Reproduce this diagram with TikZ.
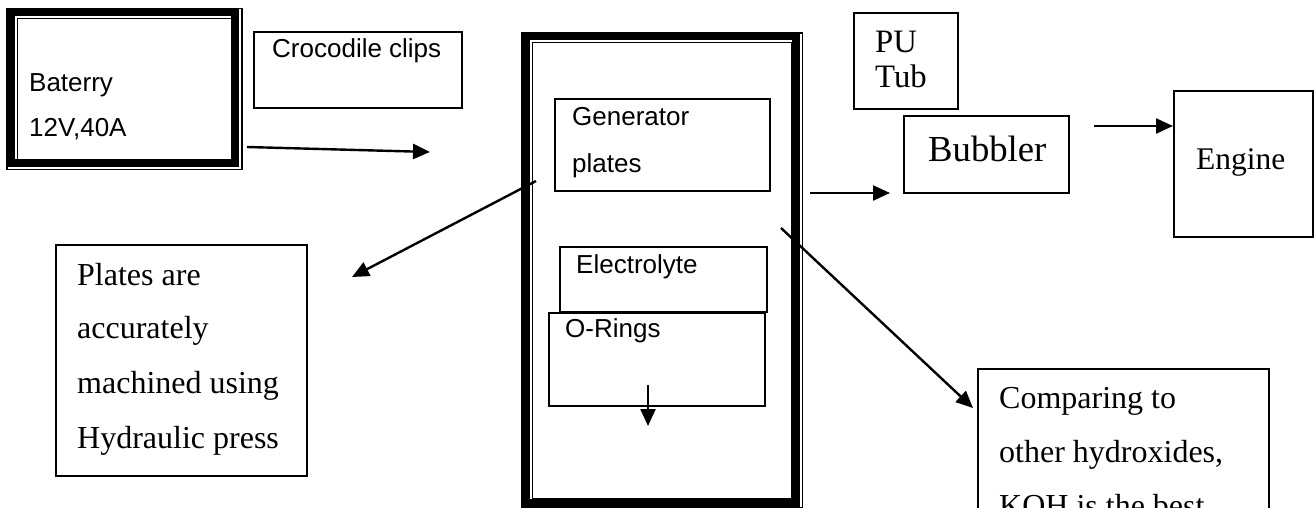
\documentclass[tikz,border=0pt]{standalone}
\usepackage{fontspec}
\setmainfont{Liberation Serif}
\newfontfamily\arialfont{Liberation Sans}
\usetikzlibrary{arrows.meta}
\begin{document}
\begin{tikzpicture}[x=1pt,y=-1pt,
  box/.style={draw, line width=1.7pt, anchor=north west, inner sep=0pt, outer sep=0pt},
  sanstxt/.style={font=\arialfont\fontsize{26}{30}\selectfont, anchor=base west, inner sep=0pt},
  seriftxt/.style={font=\fontsize{32}{36}\selectfont, anchor=base west, inner sep=0pt},
  arr/.style={line width=2.4pt, -{Triangle[length=17pt,width=15pt]}},
  bandline/.style={line width=8pt},
  thinline/.style={line width=1.3pt}
]
\useasboundingbox (0,0) rectangle (1314,508);
\clip (0,0) rectangle (1314,508);

% battery frame (thick-thin border)
\draw[bandline] (10.7,12.3) rectangle (235,163);
\draw[thinline] (17.5,18.7) rectangle (231.5,159.5);
\draw[thinline] (7,8.5) rectangle (242,169.5);

% generator frame (thick-thin border)
\draw[bandline] (526,36) rectangle (796,503);
\draw[thinline] (532.5,42.5) rectangle (792,498.5);
\draw[thinline] (522,33) rectangle (802.5,507.5);

% boxes
\node[box, minimum width=208pt, minimum height=76pt] (croc) at (254,32) {};
\node[box, minimum width=215pt, minimum height=92pt] (gen) at (555,99) {};
\node[box, minimum width=207pt, minimum height=65pt] (elec) at (560,247) {};
\node[box, minimum width=216pt, minimum height=93pt] (orings) at (549,313) {};
\node[box, minimum width=104pt, minimum height=96pt] (putub) at (854,13) {};
\node[box, minimum width=165pt, minimum height=77pt] (bubbler) at (904,116) {};
\node[box, minimum width=139pt, minimum height=146pt] (engine) at (1174,91) {};
\node[box, minimum width=251pt, minimum height=231pt] (plates) at (56,245) {};
\node[box, minimum width=291pt, minimum height=200pt] (comparing) at (978,369) {};

% texts
\node[sanstxt] (t1) at (29,92) {Baterry};
\node[sanstxt] (t2) at (29,137) {12V,40A};
\node[sanstxt] (t3) at (272,58) {Crocodile clips};
\node[sanstxt] (t4) at (572,125) {Generator};
\node[sanstxt] (t5) at (572,172) {plates};
\node[sanstxt] (t6) at (576,273) {Electrolyte};
\node[sanstxt] (t7) at (565,337) {O-Rings};
\node[seriftxt, font=\fontsize{32.7}{36}\selectfont] (t8) at (875,53) {PU};
\node[seriftxt, font=\fontsize{32.7}{36}\selectfont] (t9) at (875,88) {Tub};
\node[seriftxt, font=\fontsize{36.7}{40}\selectfont] (t10) at (928,161) {Bubbler};
\node[seriftxt, font=\fontsize{31.5}{36}\selectfont] (t11) at (1196,169) {Engine};
\node[seriftxt] (p1) at (77,285) {Plates are};
\node[seriftxt] (p2) at (77,338) {accurately};
\node[seriftxt] (p3) at (77,393) {machined using};
\node[seriftxt] (p4) at (77,448) {Hydraulic press};
\node[seriftxt] (c1) at (999,408) {Comparing to};
\node[seriftxt] (c2) at (999,462) {other hydroxides,};
\node[seriftxt] (c3) at (999,516) {KOH is the best};

% arrow end points
\coordinate (a1s) at (247,147);
\coordinate (a1e) at (430,152);
\coordinate (a2s) at (536,181);
\coordinate (a2e) at (352,277);
\coordinate (a3s) at (648,385);
\coordinate (a3e) at (648,426);
\coordinate (a4s) at (810,193);
\coordinate (a4e) at (890,193);
\coordinate (a5s) at (781,228);
\coordinate (a5e) at (973,408);
\coordinate (a6s) at (1094,126);
\coordinate (a6e) at (1173,126);

\draw[arr] (a1s) -- (a1e);
\draw[arr] (a2s) -- (a2e);
\draw[arr] (a3s) -- (a3e);
\draw[arr] (a4s) -- (a4e);
\draw[arr] (a5s) -- (a5e);
\draw[arr] (a6s) -- (a6e);
\end{tikzpicture}
\end{document}
